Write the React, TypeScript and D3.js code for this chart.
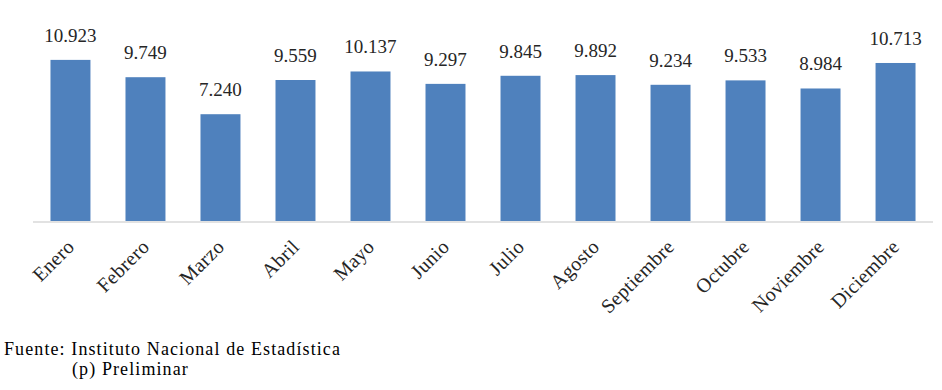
import React from "react";
import * as d3 from "d3";

const months = [
  "Enero", "Febrero", "Marzo", "Abril", "Mayo", "Junio",
  "Julio", "Agosto", "Septiembre", "Octubre", "Noviembre", "Diciembre",
];
const values = [10.923, 9.749, 7.24, 9.559, 10.137, 9.297, 9.845, 9.892, 9.234, 9.533, 8.984, 10.713];
const valueLabels = ["10.923", "9.749", "7.240", "9.559", "10.137", "9.297", "9.845", "9.892", "9.234", "9.533", "8.984", "10.713"];
const sourceLines = ["Fuente: Instituto Nacional de Estadística", "(p) Preliminar"];

const width = 942;
const height = 390;
const serif = "Liberation Serif, serif";

const App = () => {
  const x = d3.scaleBand<string>().domain(months).range([33, 933]).paddingInner(0.467).paddingOuter(0.233);
  const y = d3.scaleLinear().domain([0, 12]).range([221, 44]);

  return (
    <svg width={width} height={height} style={{ position: "absolute", left: 0, top: 0, background: "#fff" }}>
      {months.map((m, i) => (
        <rect
          key={m}
          x={x(m)}
          y={y(values[i])}
          width={x.bandwidth()}
          height={y(0) - y(values[i])}
          fill="#4F81BD"
        />
      ))}
      <line x1={33} x2={933} y1={222} y2={222} stroke="#D9D9D9" strokeWidth={1.5} />
      {months.map((m, i) => (
        <text
          key={"v" + m}
          x={(x(m) ?? 0) + x.bandwidth() / 2}
          y={y(values[i]) - 18}
          textAnchor="middle"
          style={{ fontFamily: serif, fontSize: "19px" }}
          fill="#262626"
        >
          {valueLabels[i]}
        </text>
      ))}
      {months.map((m) => {
        const cx = (x(m) ?? 0) + x.bandwidth() / 2 + 5;
        const cy = 248;
        return (
          <text
            key={"c" + m}
            transform={`translate(${cx},${cy}) rotate(-45)`}
            textAnchor="end"
            style={{ fontFamily: serif, fontSize: "20px", letterSpacing: "0.3px" }}
            fill="#262626"
          >
            {m}
          </text>
        );
      })}
      <text x={4} y={355} style={{ fontFamily: serif, fontSize: "18px", letterSpacing: "1.1px" }} fill="#000">
        {sourceLines[0]}
      </text>
      <text x={72} y={375} style={{ fontFamily: serif, fontSize: "18px", letterSpacing: "1.1px" }} fill="#000">
        {sourceLines[1]}
      </text>
    </svg>
  );
};

export default App;
